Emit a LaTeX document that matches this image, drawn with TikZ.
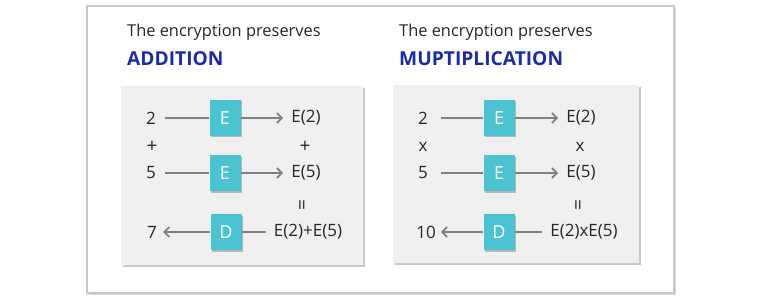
\documentclass[tikz,border=0pt]{standalone}
\usepackage{fontspec}
\setmainfont{Open Sans}
\usetikzlibrary{arrows.meta,shadows}
\definecolor{teal1}{RGB}{76,195,208}
\definecolor{titleblue}{RGB}{28,44,168}
\definecolor{panel}{RGB}{240,240,240}
\definecolor{linegray}{RGB}{128,128,128}
\definecolor{framegray}{RGB}{200,200,200}
\begin{document}
\begin{tikzpicture}[x=1pt,y=-1pt,
  frame/.style={draw=framegray,line width=1.5pt,fill=white,
    drop shadow={shadow xshift=2pt,shadow yshift=-2pt,opacity=0.25,fill=black!60}},
  panelbox/.style={fill=panel,draw=none,
    drop shadow={shadow xshift=2pt,shadow yshift=-2pt,opacity=0.35,fill=black!60}},
  opbox/.style={fill=teal1,draw=none,minimum width=31pt,minimum height=36pt,inner sep=0pt,
    text=white,font=\fontsize{18}{20}\selectfont,
    drop shadow={shadow xshift=1.5pt,shadow yshift=-1.5pt,opacity=0.35,fill=black!70}},
  txt/.style={font=\fontsize{17}{20}\selectfont,text=black!85,inner sep=0pt},
  sym/.style={font=\fontsize{19}{20}\selectfont,text=black!85,inner sep=0pt},
  num/.style={txt,inner xsep=9pt},
  res/.style={txt,inner xsep=8pt},
  title/.style={font=\fontsize{16.4}{20}\selectfont,text=black!85,anchor=west,inner sep=0pt},
  btitle/.style={font=\fontsize{19.2}{23}\selectfont\bfseries,text=titleblue,anchor=west,inner sep=0pt},
  conn/.style={draw=linegray,line width=1.8pt},
  arr/.style={conn,-{Straight Barb[length=5pt,width=10pt,line width=1.8pt]}}
]
\useasboundingbox (0,0) rectangle (760,302);
\path[frame] (87,6) rectangle (674,293);
\path[panelbox] (121,86) rectangle (363,265);
\path[panelbox] (393,85) rectangle (639,263);

% left
\node[title] (lt1) at (127,32) {The encryption preserves};
\node[btitle] (lt2) at (127,59) {ADDITION};
\node[num] (la) at (151,118) {2};
\node[opbox] (lE1) at (225,118) {E};
\node[res] (lr1) at (306,118) {E(2)};
\node[sym] (lp1) at (152,147) {+};
\node[sym] (lp2) at (305,147) {+};
\node[num] (lb) at (151,173) {5};
\node[opbox] (lE2) at (225,173) {E};
\node[res] (lr2) at (306,173) {E(5)};
\node[sym,rotate=90] (leq) at (304,205) {=};
\node[num,inner xsep=6pt] (lc) at (152,232) {7};
\node[opbox] (lD) at (226,232) {D};
\node[res] (lr3) at (308,232) {E(2)+E(5)};
\draw[conn] (la) -- (lE1);
\draw[arr] (lE1) -- (lr1);
\draw[conn] (lb) -- (lE2);
\draw[arr] (lE2) -- (lr2);
\draw[conn] (lr3) -- (lD);
\draw[arr] (lD) -- (lc);

% right
\node[title] (rt1) at (399,32) {The encryption preserves};
\node[btitle] (rt2) at (399,59) {MUPTIPLICATION};
\node[num,inner xsep=13pt] (ra) at (423,118) {2};
\node[opbox] (rE1) at (499,118) {E};
\node[res] (rr1) at (581,118) {E(2)};
\node[txt] (rx1) at (423,147) {x};
\node[txt] (rx2) at (580,147) {x};
\node[num,inner xsep=13pt] (rb) at (423,173) {5};
\node[opbox] (rE2) at (499,173) {E};
\node[res] (rr2) at (581,173) {E(5)};
\node[sym,rotate=90] (req) at (580,205) {=};
\node[num,inner xsep=5pt] (rc) at (426,232) {10};
\node[opbox] (rD) at (499,232) {D};
\node[res] (rr3) at (584,232) {E(2)xE(5)};
\draw[conn] (ra) -- (rE1);
\draw[arr] (rE1) -- (rr1);
\draw[conn] (rb) -- (rE2);
\draw[arr] (rE2) -- (rr2);
\draw[conn] (rr3) -- (rD);
\draw[arr] (rD) -- (rc);
\end{tikzpicture}
\end{document}
